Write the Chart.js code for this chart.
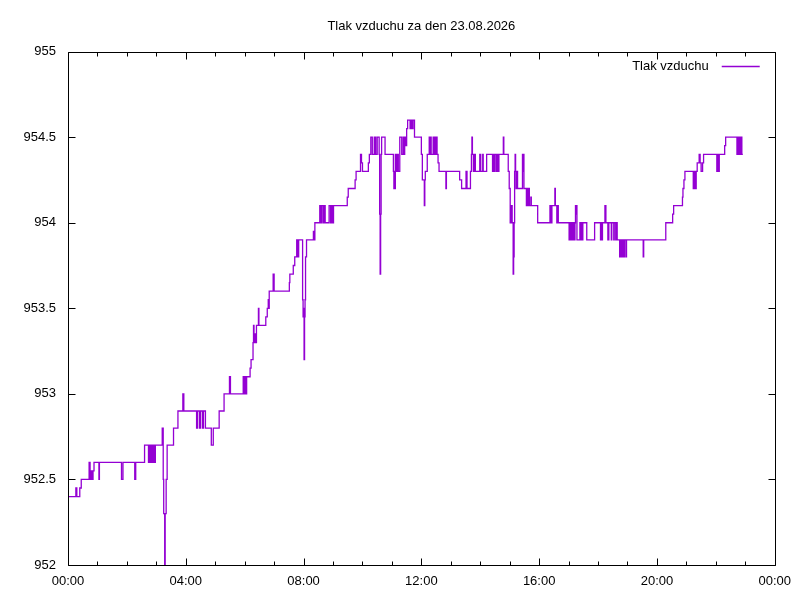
<!DOCTYPE html>
<html lang="cs">
<head>
    <meta charset="UTF-8">
    <title>Tlak vzduchu</title>
    <script src="https://cdn.jsdelivr.net/npm/chart.js"></script>
    <style>
        body {
            margin: 0;
            padding: 0;
            background-color: #ffffff;
        }
        #pressureChart {
            display: block;
        }
    </style>
</head>
<body>
    <canvas id="pressureChart" width="800" height="600"></canvas>
    <script>
        const chartTitle = 'Tlak vzduchu za den 23.08.2026';
        const seriesLabel = 'Tlak vzduchu';

        // minutes since midnight where the reading changes
        const minutes = [
            0, 16, 18, 24, 27, 43, 45, 47, 49, 51, 53, 63, 64, 109, 112, 136, 138, 156, 164, 166,
            168, 170, 172, 174, 176, 178, 192, 194, 195, 197, 198, 200, 202, 215, 224, 234, 236, 262, 264, 268,
            270, 274, 276, 280, 292, 296, 308, 318, 329, 331, 357, 359, 360, 362, 364, 371, 373, 377, 378, 379,
            380, 382, 384, 388, 389, 403, 406, 408, 409, 410, 418, 420, 451, 452, 459, 462, 466, 467, 468, 469,
            470, 478, 479, 480, 481, 482, 483, 484, 486, 500, 502, 503, 513, 515, 517, 520, 522, 524, 532, 535,
            537, 539, 541, 569, 571, 585, 587, 596, 598, 600, 612, 614, 617, 620, 624, 625, 626, 627, 630, 634,
            635, 636, 637, 638, 639, 646, 663, 664, 665, 666, 667, 669, 671, 673, 676, 680, 683, 684, 686, 688,
            690, 692, 697, 699, 701, 703, 706, 720, 722, 726, 727, 728, 732, 736, 737, 739, 740, 744, 745, 747,
            748, 750, 752, 754, 756, 770, 771, 798, 802, 811, 813, 820, 822, 823, 824, 826, 828, 830, 839, 841,
            845, 846, 853, 865, 866, 867, 869, 872, 874, 876, 878, 887, 888, 897, 899, 901, 903, 905, 907, 908,
            909, 910, 911, 912, 913, 914, 916, 926, 927, 928, 929, 934, 935, 937, 938, 940, 943, 944, 957, 982,
            983, 984, 985, 986, 992, 993, 996, 997, 999, 1021, 1022, 1024, 1025, 1027, 1029, 1031, 1033, 1034, 1035, 1036,
            1037, 1043, 1044, 1046, 1047, 1049, 1057, 1073, 1085, 1086, 1088, 1089, 1094, 1096, 1100, 1102, 1107, 1108, 1112, 1113,
            1116, 1117, 1119, 1124, 1125, 1126, 1128, 1130, 1131, 1133, 1134, 1137, 1138, 1172, 1173, 1218, 1232, 1234, 1252, 1253,
            1255, 1257, 1274, 1275, 1276, 1278, 1279, 1280, 1282, 1286, 1288, 1290, 1293, 1295, 1322, 1323, 1325, 1327, 1338, 1340,
            1363, 1365, 1367, 1369, 1370, 1372, 1373, 1375
        ];

        // pressure in hPa, same order as minutes
        const pressure = [
            952.4, 952.45, 952.4, 952.45, 952.5, 952.6, 952.5, 952.55, 952.5, 952.55, 952.6, 952.5, 952.6, 952.5, 952.6, 952.5, 952.6, 952.7, 952.6, 952.7,
            952.6, 952.7, 952.6, 952.7, 952.6, 952.7, 952.8, 952.5, 952.3, 952.0, 952.3, 952.5, 952.7, 952.8, 952.9, 953.0, 952.9, 952.8, 952.9, 952.8,
            952.9, 952.8, 952.9, 952.8, 952.7, 952.8, 952.9, 953.0, 953.1, 953.0, 953.1, 953.0, 953.1, 953.0, 953.1, 953.15, 953.2, 953.3, 953.4, 953.3,
            953.35, 953.3, 953.4, 953.5, 953.4, 953.45, 953.5, 953.55, 953.5, 953.6, 953.7, 953.6, 953.65, 953.7, 953.75, 953.8, 953.9, 953.8, 953.9, 953.8,
            953.9, 953.55, 953.45, 953.5, 953.2, 953.45, 953.55, 953.8, 953.9, 953.95, 953.9, 954.0, 954.1, 954.0, 954.1, 954.0, 954.1, 954.0, 954.1, 954.0,
            954.1, 954.0, 954.1, 954.15, 954.2, 954.25, 954.3, 954.4, 954.35, 954.3, 954.35, 954.4, 954.5, 954.4, 954.5, 954.4, 954.5, 954.4, 954.5, 954.4,
            954.05, 953.7, 954.05, 954.4, 954.5, 954.4, 954.3, 954.2, 954.3, 954.2, 954.4, 954.3, 954.4, 954.3, 954.5, 954.4, 954.5, 954.4, 954.5, 954.45,
            954.55, 954.6, 954.55, 954.6, 954.55, 954.6, 954.5, 954.4, 954.25, 954.1, 954.25, 954.3, 954.4, 954.5, 954.4, 954.5, 954.4, 954.5, 954.4, 954.5,
            954.4, 954.5, 954.4, 954.35, 954.3, 954.2, 954.3, 954.25, 954.2, 954.3, 954.2, 954.3, 954.4, 954.5, 954.4, 954.3, 954.4, 954.3, 954.4, 954.3,
            954.4, 954.3, 954.4, 954.3, 954.4, 954.3, 954.4, 954.3, 954.4, 954.3, 954.4, 954.5, 954.4, 954.3, 954.2, 954.0, 954.1, 954.0, 953.7, 953.8,
            954.0, 954.3, 954.4, 954.3, 954.2, 954.3, 954.2, 954.4, 954.3, 954.4, 954.2, 954.1, 954.2, 954.1, 954.2, 954.1, 954.15, 954.1, 954.0, 954.1,
            954.0, 954.1, 954.0, 954.1, 954.2, 954.1, 954.0, 954.1, 954.0, 953.9, 954.0, 953.9, 954.0, 953.9, 954.0, 953.9, 954.0, 954.1, 954.05, 954.1,
            953.9, 954.0, 953.9, 954.0, 953.9, 954.0, 953.9, 954.0, 953.9, 954.0, 953.9, 954.0, 954.1, 954.0, 953.9, 954.0, 953.9, 954.0, 953.9, 954.0,
            953.9, 954.0, 953.9, 953.8, 953.9, 953.8, 953.9, 953.8, 953.9, 953.8, 953.9, 953.8, 953.9, 953.8, 953.9, 954.0, 954.05, 954.1, 954.15, 954.2,
            954.25, 954.3, 954.2, 954.3, 954.2, 954.3, 954.2, 954.3, 954.35, 954.4, 954.35, 954.3, 954.35, 954.4, 954.3, 954.4, 954.3, 954.4, 954.45, 954.5,
            954.4, 954.5, 954.4, 954.5, 954.4, 954.5, 954.4, 954.4
        ];

        // axis ticks
        const yTicks = [952, 952.5, 953, 953.5, 954, 954.5, 955];
        const xHours = [0, 1, 2, 3, 4, 5, 6, 7, 8, 9, 10, 11, 12, 13, 14, 15, 16, 17, 18, 19, 20, 21, 22, 23, 24];
        const xLabelEvery = 4;

        const lineColor = '#9400d3';
        const fontFamily = "'Liberation Sans', Arial, sans-serif";

        function hhmm(mins) {
            const h = Math.floor(mins / 60) % 24;
            const m = mins % 60;
            return String(h).padStart(2, '0') + ':' + String(m).padStart(2, '0');
        }

        // gnuplot style box with inward ticks on all four sides + legend inside plot
        const gnuplotFrame = {
            id: 'gnuplotFrame',
            afterDraw(chart) {
                const ctx = chart.ctx;
                const a = chart.chartArea;
                const xs = chart.scales.x;
                const ys = chart.scales.y;
                const l = Math.round(a.left) + 0.5;
                const r = Math.round(a.right) + 0.5;
                const t = Math.round(a.top) + 0.5;
                const b = Math.round(a.bottom) + 0.5;
                ctx.save();
                ctx.strokeStyle = '#000';
                ctx.lineWidth = 1;
                ctx.beginPath();
                ctx.rect(l, t, r - l, b - t);
                xHours.forEach(h => {
                    const px = Math.round(xs.getPixelForValue(h * 60)) + 0.5;
                    const len = h % xLabelEvery === 0 ? 7 : 4;
                    ctx.moveTo(px, b);
                    ctx.lineTo(px, b - len);
                    ctx.moveTo(px, t);
                    ctx.lineTo(px, t + len);
                });
                yTicks.forEach(v => {
                    const py = Math.round(ys.getPixelForValue(v)) + 0.5;
                    ctx.moveTo(l, py);
                    ctx.lineTo(l + 7, py);
                    ctx.moveTo(r, py);
                    ctx.lineTo(r - 7, py);
                });
                ctx.stroke();

                // legend: text then line sample
                const ly = a.top + 15;
                ctx.font = '13px ' + fontFamily;
                ctx.fillStyle = '#000';
                ctx.textAlign = 'right';
                ctx.textBaseline = 'middle';
                ctx.fillText(seriesLabel, a.right - 66, ly);
                ctx.strokeStyle = lineColor;
                ctx.lineWidth = 1.3;
                ctx.beginPath();
                ctx.moveTo(a.right - 53, Math.round(ly) - 0.5);
                ctx.lineTo(a.right - 15, Math.round(ly) - 0.5);
                ctx.stroke();
                ctx.restore();
            }
        };

        const points = minutes.map((m, i) => ({ x: m, y: pressure[i] }));

        new Chart(document.getElementById('pressureChart').getContext('2d'), {
            type: 'line',
            data: {
                datasets: [{
                    label: seriesLabel,
                    data: points,
                    borderColor: lineColor,
                    borderWidth: 1.3,
                    pointRadius: 0,
                    stepped: true,
                    fill: false
                }]
            },
            options: {
                responsive: false,
                animation: false,
                devicePixelRatio: 1,
                layout: {
                    padding: { top: 0, right: 25, bottom: 0, left: 0 }
                },
                plugins: {
                    legend: { display: false },
                    tooltip: { enabled: false },
                    title: {
                        display: true,
                        text: chartTitle,
                        fullSize: false,
                        color: '#000',
                        font: { family: fontFamily, size: 13, weight: 'normal' },
                        padding: { top: 19, bottom: 17 }
                    }
                },
                scales: {
                    x: {
                        type: 'linear',
                        min: 0,
                        max: 1440,
                        grid: { display: false, drawTicks: false },
                        border: { display: false },
                        afterBuildTicks: scale => {
                            scale.ticks = xHours.filter(h => h % xLabelEvery === 0).map(h => ({ value: h * 60 }));
                        },
                        afterFit: scale => { scale.height = 35; },
                        ticks: {
                            color: '#000',
                            font: { family: fontFamily, size: 13 },
                            padding: 9,
                            maxRotation: 0,
                            autoSkip: false,
                            callback: value => hhmm(value)
                        }
                    },
                    y: {
                        min: 952,
                        max: 955,
                        grid: { display: false, drawTicks: false },
                        border: { display: false },
                        afterBuildTicks: scale => {
                            scale.ticks = yTicks.map(v => ({ value: v }));
                        },
                        afterFit: scale => { scale.width = 68; },
                        ticks: {
                            color: '#000',
                            font: { family: fontFamily, size: 13 },
                            padding: 12,
                            callback: value => String(+value.toFixed(1))
                        }
                    }
                }
            },
            plugins: [gnuplotFrame]
        });
    </script>
</body>
</html>
